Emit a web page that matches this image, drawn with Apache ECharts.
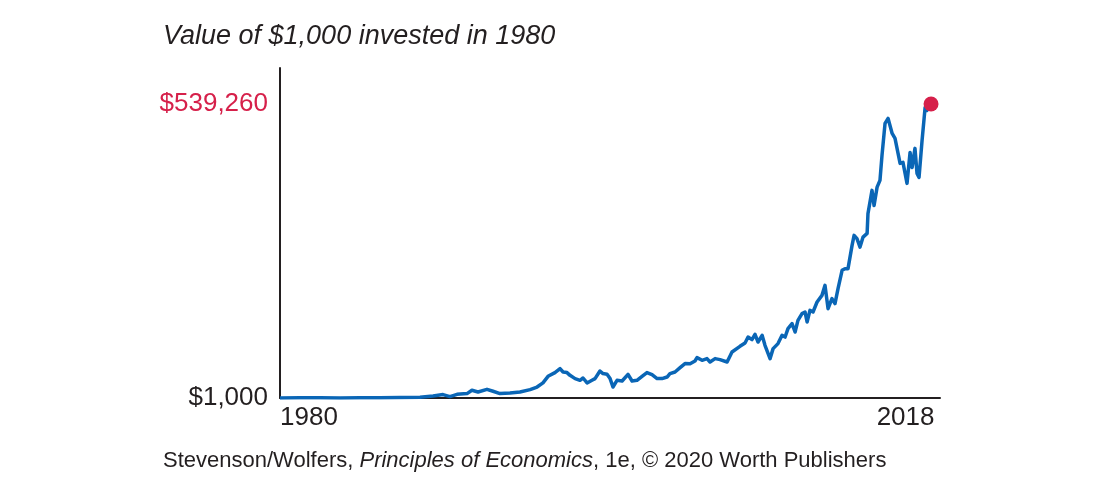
<!DOCTYPE html>
<html>
<head>
<meta charset="utf-8">
<script src="https://cdn.jsdelivr.net/npm/echarts@6/dist/echarts.min.js"></script>
<style>
  html, body { margin: 0; padding: 0; background: #ffffff; }
  #chart { width: 1100px; height: 493px; }
</style>
</head>
<body>
<div id="chart"></div>
<script>
// Decimal years of the sampled points
var years = [
  1980.00, 1981.18, 1982.37, 1983.55, 1984.73, 1985.91, 1987.10, 1988.28,
  1989.05, 1989.64, 1990.05, 1990.47, 1991.06, 1991.35, 1991.71, 1992.24,
  1992.60, 1993.01, 1993.60, 1994.19, 1994.79, 1995.20, 1995.55, 1995.85,
  1996.26, 1996.56, 1996.74, 1996.97, 1997.15, 1997.45, 1997.74, 1997.92,
  1998.16, 1998.45, 1998.63, 1998.92, 1999.10, 1999.34, 1999.52, 1999.69,
  1999.93, 2000.23, 2000.58, 2000.82, 2001.11, 2001.41, 2001.70, 2002.00,
  2002.30, 2002.59, 2002.89, 2003.06, 2003.36, 2003.66, 2003.95, 2004.25,
  2004.54, 2004.66, 2004.96, 2005.25, 2005.43, 2005.73, 2006.02, 2006.44,
  2006.73, 2007.20, 2007.50, 2007.68, 2007.91, 2008.09, 2008.27, 2008.51,
  2008.68, 2008.98, 2009.16, 2009.45, 2009.69, 2009.87, 2010.04, 2010.28,
  2010.46, 2010.63, 2010.87, 2011.05, 2011.17, 2011.34, 2011.52, 2011.76,
  2012.05, 2012.23, 2012.41, 2012.64, 2012.82, 2013.00, 2013.24, 2013.41,
  2013.59, 2013.83, 2013.95, 2014.12, 2014.30, 2014.48, 2014.72, 2014.77,
  2015.01, 2015.13, 2015.31, 2015.48, 2015.60, 2015.78, 2015.96, 2016.20,
  2016.37, 2016.55, 2016.67, 2016.84, 2017.08, 2017.26, 2017.38, 2017.55,
  2017.67, 2017.79, 2017.97, 2018.15, 2018.26, 2018.50
];

// Value of the investment in dollars at each sampled point
var values = [
  1000, 1300, 1400, 1200, 1500, 1600, 1800, 2300,
  4660, 7220, 3560, 7770, 9050, 15100, 12000, 16900,
  13300, 9050, 10150, 12000, 16400, 21100, 28800, 40700,
  47500, 54800, 48600, 47500, 42500, 36500, 33400, 37600,
  28500, 33400, 36500, 50400, 45700, 44400, 36500, 21100,
  33400, 32100, 44400, 32100, 33400, 40700, 47500, 43800,
  36500, 36500, 39400, 45700, 48600, 56600, 64000, 63600,
  68700, 74900, 70000, 73100, 66900, 73100, 71300, 66900,
  85200, 95600, 101700, 112600, 107900, 117600, 103500, 115700,
  97400, 73100, 91400, 100600, 115700, 112600, 128000, 137200,
  121800, 143200, 155500, 158400, 140100, 161500, 158400, 176700,
  188900, 207200, 164600, 182900, 173800, 201200, 234700, 237800,
  237800, 280400, 298700, 292700, 277300, 295600, 302400, 338500,
  381100, 353600, 387100, 399400, 445100, 503700, 512900, 485400,
  476300, 448800, 430500, 432300, 393900, 450600, 423200, 458000,
  412200, 404900, 472600, 533000, 527500, 539260
];

// Tick labels shown on the axes
var xTickLabels = [1980, 2018];
var yTickLabels = [1000, 539260];

var finalPoint = [[years[years.length - 1], values[values.length - 1]]];

var lineData = years.map(function (y, i) { return [y, values[i]]; });

var chart = echarts.init(document.getElementById('chart'), null, { renderer: 'canvas' });

var textColor = '#231f20';
var red = '#d6204a';
var blue = '#0a66b6';
var fontFamily = '"Liberation Sans", Arial, Helvetica, sans-serif';

function fmtDollar(v) {
  return '$' + Number(v).toLocaleString('en-US');
}

chart.setOption({
  animation: false,
  backgroundColor: '#ffffff',
  title: [
    {
      text: 'Value of $1,000 invested in 1980',
      left: 158,
      top: 18,
      textStyle: {
        fontFamily: fontFamily,
        fontStyle: 'italic',
        fontWeight: 'normal',
        fontSize: 27,
        color: textColor
      }
    },
    {
      text: '{n|Stevenson/Wolfers, }{i|Principles of Economics}{n|, 1e, © 2020 Worth Publishers}',
      left: 158,
      top: 445,
      textStyle: {
        fontWeight: 'normal',
        rich: {
          n: { fontFamily: fontFamily, fontSize: 22, fontWeight: 'normal', color: textColor },
          i: { fontFamily: fontFamily, fontSize: 22, fontWeight: 'normal', fontStyle: 'italic', color: textColor }
        }
      }
    }
  ],
  grid: {
    left: 280,
    right: 160,
    top: 68,
    bottom: 95,
    containLabel: false
  },
  xAxis: {
    type: 'value',
    min: 1980,
    max: 2019.03,
    splitLine: { show: false },
    axisTick: { show: false },
    axisLine: { show: true, onZero: false, lineStyle: { color: textColor, width: 2 } },
    axisLabel: {
      customValues: xTickLabels,
      alignMinLabel: 'left',
      alignMaxLabel: 'center',
      margin: 7,
      fontFamily: fontFamily,
      fontSize: 26,
      color: textColor,
      formatter: function (v) {
        return Number(v) === xTickLabels[xTickLabels.length - 1] ? '{last|' + v + '}' : String(v);
      },
      rich: {
        last: { fontFamily: fontFamily, fontSize: 26, color: textColor, padding: [0, 34, 0, 0] }
      }
    }
  },
  yAxis: {
    type: 'value',
    min: 1000,
    max: 605170,
    splitLine: { show: false },
    axisTick: { show: false },
    axisLine: { show: true, lineStyle: { color: textColor, width: 2 } },
    axisLabel: {
      customValues: yTickLabels,
      margin: 12,
      fontFamily: fontFamily,
      fontSize: 26,
      color: function (v) { return Number(v) === 539260 ? red : textColor; },
      formatter: fmtDollar
    }
  },
  series: [
    {
      type: 'line',
      data: lineData,
      showSymbol: false,
      symbol: 'none',
      lineStyle: { color: blue, width: 3.5, join: 'round' },
      z: 3
    },
    {
      type: 'scatter',
      data: finalPoint,
      symbol: 'circle',
      symbolSize: 15,
      itemStyle: { color: red, opacity: 1 },
      z: 4
    }
  ]
});
</script>
</body>
</html>
